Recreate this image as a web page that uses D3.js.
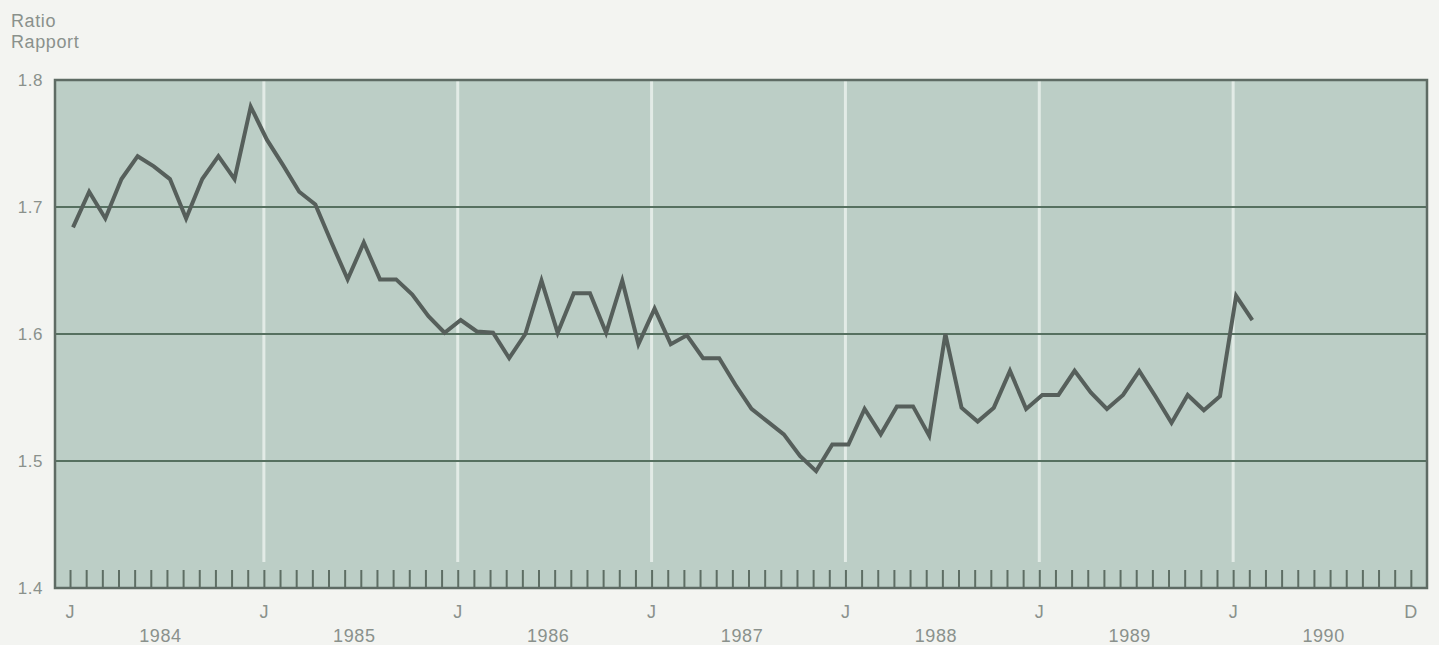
<!DOCTYPE html>
<html>
<head>
<meta charset="utf-8">
<script src="https://cdn.jsdelivr.net/npm/d3@7"></script>
<style>
  body { margin: 0; background: #f3f4f1; }
  text { font-family: "Liberation Sans", Arial, sans-serif; fill: #8a918c; }
</style>
</head>
<body>
<div id="chart"></div>
<script>
var svgWidth = 1439;
var svgHeight = 645;

var margin = { top: 80, right: 12, bottom: 57, left: 55 };
var width = svgWidth - margin.left - margin.right;
var height = svgHeight - margin.top - margin.bottom;

// monthly ratio, Jan 1984 .. Feb 1990 (month index 0 = Jan 1984)
var ratio = [
  1.684, 1.712, 1.691, 1.722, 1.740, 1.732, 1.722, 1.691, 1.722, 1.740, 1.722, 1.779,
  1.753, 1.733, 1.712, 1.702, 1.672, 1.643, 1.672, 1.643, 1.643, 1.631, 1.614, 1.601,
  1.611, 1.602, 1.601, 1.581, 1.600, 1.642, 1.601, 1.632, 1.632, 1.601, 1.642, 1.592,
  1.620, 1.592, 1.599, 1.581, 1.581, 1.560, 1.541, 1.531, 1.521, 1.504, 1.492, 1.513,
  1.513, 1.541, 1.521, 1.543, 1.543, 1.520, 1.600, 1.542, 1.531, 1.542, 1.571, 1.541,
  1.552, 1.552, 1.571, 1.554, 1.541, 1.552, 1.571, 1.551, 1.530, 1.552, 1.540, 1.551,
  1.630, 1.611
];
var years = ["1984", "1985", "1986", "1987", "1988", "1989", "1990"];
var yTicks = [1.4, 1.5, 1.6, 1.7, 1.8];
var gridValues = [1.5, 1.6, 1.7];
var monthCount = 84;

var svg = d3.select("#chart")
  .append("svg")
  .attr("width", svgWidth)
  .attr("height", svgHeight);

// axis title (English / French)
svg.append("text").attr("x", 11).attr("y", 27)
  .style("font-size", "18px").style("letter-spacing", "0.6px").text("Ratio");
svg.append("text").attr("x", 11).attr("y", 48)
  .style("font-size", "18px").style("letter-spacing", "0.6px").text("Rapport");

var chartGroup = svg.append("g")
  .attr("transform", `translate(${margin.left}, ${margin.top})`);

var xScale = d3.scaleLinear()
  .domain([-0.93, 84])
  .range([0, width]);

var yScale = d3.scaleLinear()
  .domain([1.4, 1.8])
  .range([height, 0]);

// panel
chartGroup.append("rect")
  .attr("width", width)
  .attr("height", height)
  .attr("fill", "#bccec6");

// white january lines
chartGroup.selectAll(".yearline")
  .data(d3.range(12, monthCount, 12))
  .enter()
  .append("line")
  .attr("x1", d => xScale(d))
  .attr("x2", d => xScale(d))
  .attr("y1", 0)
  .attr("y2", height - 26)
  .attr("stroke", "#e2ebe6")
  .attr("stroke-width", 3);

// horizontal grid
chartGroup.selectAll(".grid")
  .data(gridValues)
  .enter()
  .append("line")
  .attr("x1", 0)
  .attr("x2", width)
  .attr("y1", d => yScale(d))
  .attr("y2", d => yScale(d))
  .attr("stroke", "#567060")
  .attr("stroke-width", 2);

// month ticks along the bottom
var bottomAxis = d3.axisBottom(xScale)
  .tickValues(d3.range(0, monthCount))
  .tickSize(-18)
  .tickFormat("");

var xAxis = chartGroup.append("g")
  .attr("transform", `translate(0, ${height})`)
  .call(bottomAxis);
xAxis.select(".domain").remove();
xAxis.selectAll("line").attr("stroke", "#5e6e64").attr("stroke-width", 2);

// frame
chartGroup.append("rect")
  .attr("width", width)
  .attr("height", height)
  .attr("fill", "none")
  .attr("stroke", "#5e6b64")
  .attr("stroke-width", 2.5);

// y labels
var leftAxis = d3.axisLeft(yScale)
  .tickValues(yTicks)
  .tickSize(0)
  .tickPadding(12)
  .tickFormat(d3.format(".1f"));

var yAxis = chartGroup.append("g").call(leftAxis);
yAxis.select(".domain").remove();
yAxis.selectAll("text")
  .style("font-size", "17px")
  .style("font-family", "Liberation Sans, Arial, sans-serif")
  .style("letter-spacing", "0.5px")
  .attr("fill", "#8a918c")
  .attr("dy", "0.35em");

// month letters
var monthLabels = d3.range(0, monthCount, 12).map(m => ({ m: m, t: "J" }));
monthLabels.push({ m: 83, t: "D" });

chartGroup.selectAll(".mlabel")
  .data(monthLabels)
  .enter()
  .append("text")
  .attr("x", d => xScale(d.m))
  .attr("y", height + 30)
  .attr("text-anchor", "middle")
  .style("font-size", "18px")
  .text(d => d.t);

chartGroup.selectAll(".ylabel")
  .data(years)
  .enter()
  .append("text")
  .attr("x", (d, i) => xScale(i * 12 + 5.6))
  .attr("y", height + 54)
  .attr("text-anchor", "middle")
  .style("font-size", "18px")
  .style("letter-spacing", "0.6px")
  .text(d => d);

// the series
var line = d3.line()
  .x((d, i) => xScale(i) + 3)
  .y(d => yScale(d));

chartGroup.append("path")
  .datum(ratio)
  .attr("d", line)
  .attr("fill", "none")
  .attr("stroke", "#565f5b")
  .attr("stroke-width", 4)
  .attr("stroke-linejoin", "miter");
</script>
</body>
</html>
